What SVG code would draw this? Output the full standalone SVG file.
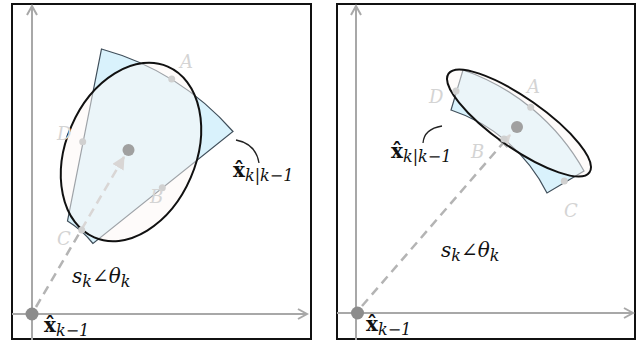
<svg xmlns="http://www.w3.org/2000/svg" width="641" height="344" viewBox="0 0 641 344">
<defs>
<marker id="ax" viewBox="0 0 12 12" refX="10" refY="6" markerWidth="12" markerHeight="12" markerUnits="userSpaceOnUse" orient="auto">
<path d="M1,1 L10,6 L1,11" fill="none" stroke="#a8a8a8" stroke-width="2"/>
</marker>
<marker id="ah" viewBox="0 0 12 12" refX="11" refY="6" markerWidth="13" markerHeight="13" markerUnits="userSpaceOnUse" orient="auto">
<path d="M0,0 L12,6 L0,12 Z" fill="#b4b4b4"/>
</marker>
<style>
.frame{fill:#fff;stroke:#111;stroke-width:2}
.axis{stroke:#a8a8a8;stroke-width:2;fill:none;marker-end:url(#ax)}
.fan{fill:#d9f2fc;stroke:#3f4e5a;stroke-width:1.2}
.ell{fill:#fdf8f6;fill-opacity:0.5;stroke:#111;stroke-width:2}
.dash{stroke:#b4b4b4;stroke-width:2.5;stroke-dasharray:9 6;fill:none;marker-end:url(#ah)}
.pt{fill:#d0d0d0}
.ctr{fill:#a0a0a0}
.org{fill:#8c8c8c}
.plab{font-family:"DejaVu Serif",serif;font-style:italic;font-size:18px;fill:#d4d4d4}
.math{font-family:"DejaVu Serif",serif;font-size:20px;fill:#111}
.b{font-weight:bold}
.sub{font-style:italic;font-size:16px}
.it{font-style:italic}
.lead{fill:none;stroke:#222;stroke-width:1.3}
</style>
</defs>
<g id="left-panel">
<rect class="frame" x="12" y="4" width="299" height="335"/>
<g id="left-axes">
<line class="axis" x1="32" y1="340" x2="32" y2="6"/>
<line class="axis" x1="12" y1="314" x2="307" y2="314"/>
</g>
<g id="left-fan"><path class="fan" d="M101.5,49 A272,272 0 0 1 233,131.5 L93,243.5 A100,100 0 0 0 67.5,221 Z"/></g>
<g id="left-connectors"><line class="dash" x1="36" y1="307" x2="124" y2="157"/></g>
<g id="left-ellipse"><ellipse class="ell" cx="131" cy="152" rx="65" ry="93" transform="rotate(23.3 131 152)"/></g>
<g id="left-points">
<circle class="pt" cx="171.7" cy="79" r="3.5"/>
<circle class="pt" cx="82.7" cy="141.7" r="3.5"/>
<circle class="pt" cx="162.3" cy="187.7" r="3.5"/>
<circle class="pt" cx="81.7" cy="230" r="3.5"/>
<text class="plab" x="180" y="68">A</text>
<text class="plab" x="57" y="140">D</text>
<text class="plab" x="150" y="203">B</text>
<text class="plab" x="57" y="245">C</text>
</g>
<g id="left-center"><circle class="ctr" cx="128.5" cy="150" r="6"/></g>
<g id="left-origin"><circle class="org" cx="32" cy="314" r="6.5"/></g>
<path class="lead" d="M236,140 Q256,144 259,163"/>
<text class="math" x="233" y="177"><tspan class="b">x̂</tspan><tspan class="sub" dy="4">k|k−1</tspan></text>
<text class="math it" x="72" y="283">s<tspan class="sub" dy="4">k</tspan><tspan dy="-4">∠θ</tspan><tspan class="sub" dy="4">k</tspan></text>
<text class="math" x="44" y="332"><tspan class="b">x̂</tspan><tspan class="sub" dy="4">k−1</tspan></text>
</g>
<g id="right-panel">
<rect class="frame" x="337" y="4" width="298" height="335"/>
<g id="right-axes">
<line class="axis" x1="356" y1="340" x2="356" y2="6"/>
<line class="axis" x1="337" y1="313" x2="633" y2="313"/>
</g>
<g id="right-fan"><path class="fan" d="M463,70 A220,220 0 0 1 584,171 L547,193 A165,165 0 0 0 451,110 Z"/></g>
<g id="right-connectors"><line class="dash" x1="362" y1="306" x2="510" y2="135"/></g>
<g id="right-ellipse"><ellipse class="ell" cx="519" cy="123" rx="86" ry="25" transform="rotate(35 519 123)"/></g>
<g id="right-points">
<circle class="pt" cx="530.7" cy="107.3" r="3.5"/>
<circle class="pt" cx="456" cy="91" r="3.5"/>
<circle class="pt" cx="504" cy="139" r="3.5"/>
<circle class="pt" cx="564.3" cy="181" r="3.5"/>
<text class="plab" x="527" y="93">A</text>
<text class="plab" x="429" y="103">D</text>
<text class="plab" x="471" y="158">B</text>
<text class="plab" x="564" y="217">C</text>
</g>
<g id="right-center"><circle class="ctr" cx="517" cy="127" r="6"/></g>
<g id="right-origin"><circle class="org" cx="357.5" cy="313" r="6.5"/></g>
<path class="lead" d="M423,143 Q424,129 442,126"/>
<text class="math" x="391" y="158"><tspan class="b">x̂</tspan><tspan class="sub" dy="4">k|k−1</tspan></text>
<text class="math it" x="441" y="257">s<tspan class="sub" dy="4">k</tspan><tspan dy="-4">∠θ</tspan><tspan class="sub" dy="4">k</tspan></text>
<text class="math" x="366" y="331"><tspan class="b">x̂</tspan><tspan class="sub" dy="4">k−1</tspan></text>
</g>
</svg>
